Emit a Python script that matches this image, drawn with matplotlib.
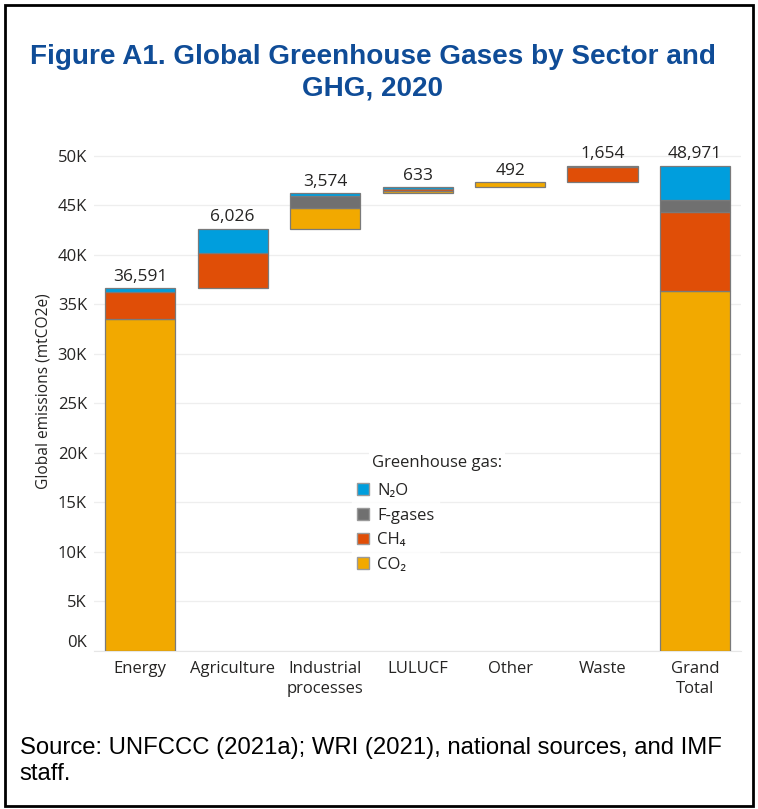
import matplotlib
matplotlib.use("Agg")
import matplotlib.pyplot as plt
from matplotlib.patches import Rectangle, Patch
from matplotlib.ticker import FuncFormatter

# Sectors and emissions by gas (mtCO2e)
sectors = ["Energy", "Agriculture", "Industrial\nprocesses", "LULUCF", "Other", "Waste", "Grand\nTotal"]
co2 = [33520, 0, 2100, 250, 492, 0, 36362]
ch4 = [2680, 3580, 0, 180, 0, 1500, 7940]
fgases = [0, 0, 1250, 0, 0, 0, 1250]
n2o = [391, 2446, 224, 203, 0, 154, 3419]
totals = [36591, 6026, 3574, 633, 492, 1654, 48971]
yticks = [0, 5000, 10000, 15000, 20000, 25000, 30000, 35000, 40000, 45000, 50000]

colors = {"CO2": "#F2A900", "CH4": "#E04E07", "F-gases": "#707070", "N2O": "#009EDD"}
font = ["Open Sans", "DejaVu Sans"]
plt.rcParams["font.family"] = font
txt = "#252423"

fig = plt.figure(figsize=(7.58, 8.09), dpi=100)
ax = fig.add_axes([0.124, 0.1953, 0.854, 0.643])

# waterfall bases: each sector starts where the previous one ended
bases = []
running = 0
for i, t in enumerate(totals):
    if i == len(totals) - 1:
        bases.append(0)
    else:
        bases.append(running)
        running += t

x = list(range(len(sectors)))
w = 0.76
for i in x:
    b = bases[i]
    for key, vals in (("CO2", co2), ("CH4", ch4), ("F-gases", fgases), ("N2O", n2o)):
        v = vals[i]
        if v > 0:
            ax.bar(i, v, width=w, bottom=b, color=colors[key], edgecolor="#7a7a7a",
                   linewidth=0.9, zorder=3)
            b += v
    ax.text(i, bases[i] + totals[i] + 350, f"{totals[i]:,}", ha="center", va="bottom",
            fontsize=12.5, color=txt, zorder=4)

ax.set_xlim(-0.5, 6.5)
ax.set_ylim(0, 52500)
ax.set_yticks(yticks)
ax.yaxis.set_major_formatter(FuncFormatter(lambda v, p: f"{int(v/1000)}K"))
ax.set_xticks(x)
ax.set_xticklabels(sectors, fontsize=12, color=txt, linespacing=1.35)
ax.tick_params(axis="y", labelsize=12, labelcolor=txt, length=0, pad=5)
ax.tick_params(axis="x", length=0, pad=7)
ax.grid(axis="y", color="#eeeeee", linewidth=0.9, zorder=0)
for s in ("top", "right", "left"):
    ax.spines[s].set_visible(False)
ax.spines["bottom"].set_color("#e6e6e6")
ax.set_ylabel("Global emissions (mtCO2e)", fontsize=11.2, color=txt, labelpad=4)

# nudge the zero label up off the baseline
lbl0 = ax.get_yticklabels()[0]
lbl0.set_va("bottom")

handles = [Patch(facecolor=colors["N2O"], edgecolor="#9a9a9a", label="N₂O"),
           Patch(facecolor=colors["F-gases"], edgecolor="#9a9a9a", label="F-gases"),
           Patch(facecolor=colors["CH4"], edgecolor="#9a9a9a", label="CH₄"),
           Patch(facecolor=colors["CO2"], edgecolor="#9a9a9a", label="CO₂")]
leg = ax.legend(handles=handles, loc="upper left",
                bbox_to_anchor=(0.386, 0.3485), frameon=True, fontsize=12,
                handlelength=0.7, handleheight=0.7,
                handletextpad=0.5, labelspacing=0.52, borderpad=0.3)
leg.get_frame().set_facecolor("white")
leg.get_frame().set_edgecolor("white")
for t in leg.get_texts():
    t.set_color(txt)
leg.set_zorder(5)
ax.text(0.429, 0.3615, "Greenhouse gas:", transform=ax.transAxes, ha="left", va="center",
        fontsize=12, color=txt, zorder=6,
        bbox=dict(facecolor="white", edgecolor="none", pad=2))

title_font = ["Liberation Sans", "DejaVu Sans"]
fig.text(0.4915, 0.929, "Figure A1. Global Greenhouse Gases by Sector and", ha="center",
         va="center", fontsize=20.1, fontweight="bold", color="#0F4C97", family=title_font)
fig.text(0.4915, 0.890, "GHG, 2020", ha="center", va="center", fontsize=20.1,
         fontweight="bold", color="#0F4C97", family=title_font)

fig.text(0.026, 0.0755, "Source: UNFCCC (2021a); WRI (2021), national sources, and IMF",
         ha="left", va="center", fontsize=17.2, color="black", family=title_font)
fig.text(0.026, 0.043, "staff.", ha="left", va="center", fontsize=17.2, color="black",
         family=title_font)

fig.add_artist(Rectangle((0.007, 0.004), 0.986, 0.990, transform=fig.transFigure,
                         fill=False, edgecolor="black", linewidth=2))

fig.savefig("out.png", dpi=100)
